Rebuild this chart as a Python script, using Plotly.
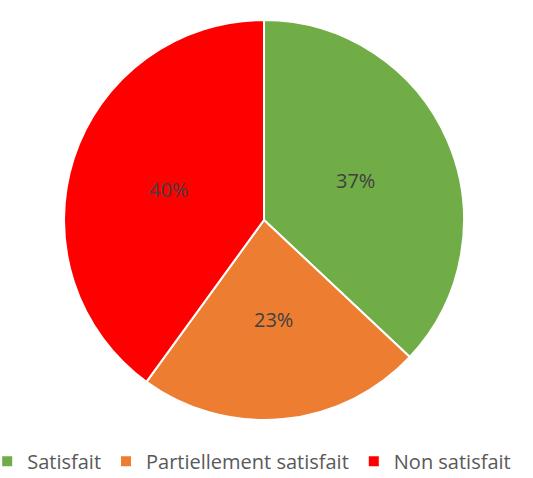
import math
import plotly.graph_objects as go

# Satisfaction breakdown
categories = ["Satisfait", "Partiellement satisfait", "Non satisfait"]
shares = [37, 23, 40]
colors = ["#70AD47", "#ED7D31", "#FF0000"]

W, H = 533, 478
cx, cy, r = 264, 220, 200
dom_x = [(cx - r) / W, (cx + r) / W]
dom_y = [(H - cy - r) / H, (H - cy + r) / H]

fig = go.Figure(
    go.Pie(
        labels=categories,
        values=shares,
        sort=False,
        direction="clockwise",
        rotation=0,
        marker=dict(colors=colors, line=dict(color="white", width=2)),
        textinfo="none",
        hoverinfo="label+percent",
        domain=dict(x=dom_x, y=dom_y),
    )
)

# Percentage labels placed halfway out along each slice's bisector
total = sum(shares)
start = 0.0
for value in shares:
    mid = (start + value / 2) / total * 2 * math.pi  # clockwise from 12 o'clock
    start += value
    px = cx + 0.5 * r * math.sin(mid)
    py = cy - 0.5 * r * math.cos(mid)
    fig.add_annotation(
        x=px / W,
        y=1 - py / H,
        xref="paper",
        yref="paper",
        xanchor="center",
        yanchor="middle",
        text=f"{value}%",
        showarrow=False,
        font=dict(family="Open Sans", size=20, color="#404040"),
    )

fig.update_layout(
    width=W,
    height=H,
    margin=dict(l=0, r=0, t=0, b=0, autoexpand=False),
    paper_bgcolor="white",
    plot_bgcolor="white",
    showlegend=True,
    legend=dict(
        orientation="h",
        x=-0.024,
        xanchor="left",
        y=-0.006,
        yanchor="bottom",
        font=dict(family="Open Sans", size=20, color="#595959"),
        itemwidth=30,
    ),
)

fig.write_html("out.html")
